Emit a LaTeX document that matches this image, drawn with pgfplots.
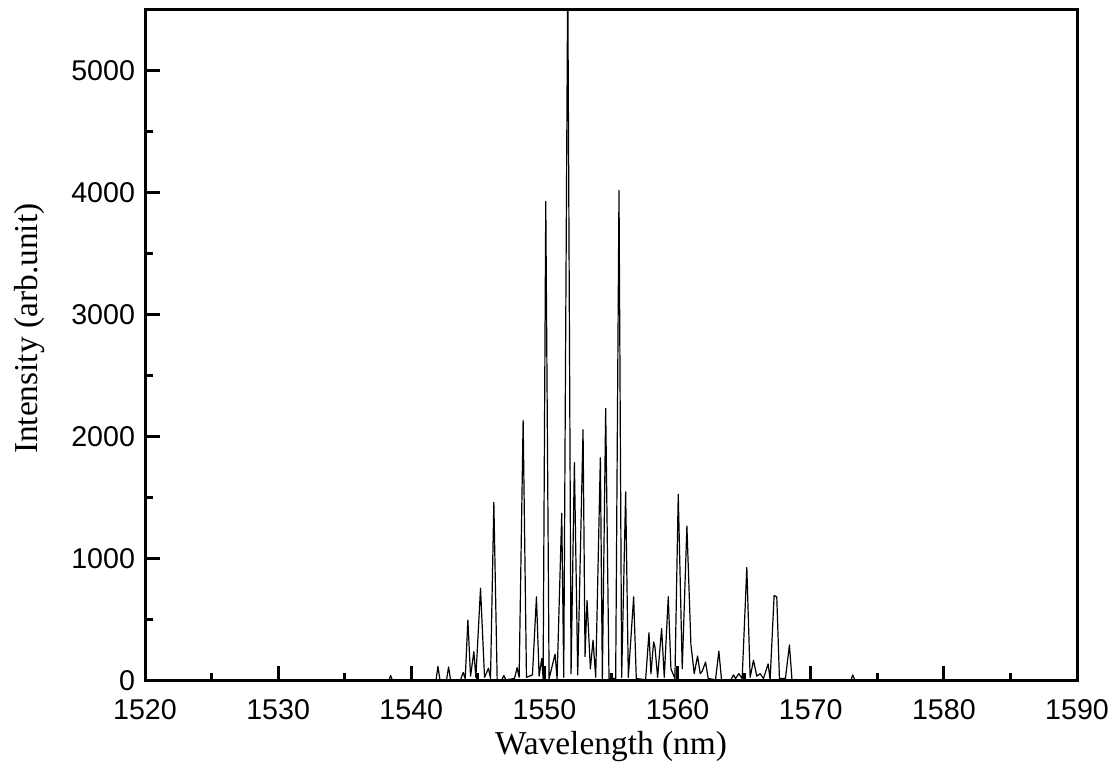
\documentclass[border=0pt]{standalone}
\usepackage{fontspec}
\setmainfont{Liberation Serif}
\newfontfamily\arial{Liberation Sans}
\usepackage{pgfplots}
\pgfplotsset{compat=1.18}
\begin{document}
\begin{tikzpicture}
\begin{axis}[
  scale only axis,
  width=466pt, height=335.5pt,
  xmin=1520, xmax=1590, ymin=0, ymax=5500,
  xtick={1520,1530,...,1590},
  ytick={0,1000,...,5000},
  minor x tick num=1, minor y tick num=1,
  tick pos=left, tick align=inside,
  major tick length=7.5pt, minor tick length=4pt,
  axis line style={line width=1.5pt},
  every tick/.style={line width=1.5pt, black},
  /pgf/number format/assume math mode=true,
  /pgf/number format/1000 sep={},
  tick label style={font=\arial\fontsize{14.3}{16}\selectfont},
  xticklabel style={yshift=-5.5pt},
  yticklabel style={xshift=-1.5pt},
  xlabel={Wavelength (nm)},
  ylabel={Intensity (arb.unit)},
  label style={font=\fontsize{16.7}{19}\selectfont},
  xlabel style={at={(axis description cs:0.5,-0.097)}, anchor=center},
  ylabel style={at={(axis description cs:-0.124,0.525)}, anchor=center},
  clip=true,
]
\addplot[black, line width=0.6pt, line join=round] coordinates {
(1520,0) (1538.3,0) (1538.45,45) (1538.6,0)
(1541.85,0) (1542.0,120) (1542.15,10) (1542.65,10) (1542.8,115) (1542.95,10)
(1543.7,10) (1543.9,70) (1544.05,20) (1544.25,500) (1544.45,40) (1544.7,240)
(1544.85,30) (1545.2,760) (1545.5,30) (1545.8,105) (1545.95,20) (1546.2,1465)
(1546.45,10) (1546.8,10) (1546.95,45) (1547.1,10) (1547.75,20) (1547.95,110)
(1548.1,30) (1548.4,2136) (1548.65,30) (1549.1,50) (1549.4,690) (1549.6,40)
(1549.8,185) (1549.9,20) (1550.1,3930) (1550.35,20) (1550.8,220) (1550.95,20)
(1551.3,1375) (1551.45,30) (1551.75,5800) (1552.0,60) (1552.25,1790) (1552.5,50)
(1552.9,2060) (1553.05,200) (1553.2,660) (1553.45,100) (1553.65,335) (1553.85,30)
(1554.2,1830) (1554.35,20) (1554.6,2235) (1554.85,20) (1555.35,20) (1555.6,4020)
(1555.8,30) (1556.1,1550) (1556.3,30) (1556.7,690) (1556.9,20) (1557.6,10)
(1557.85,395) (1558.0,60) (1558.2,320) (1558.3,280) (1558.5,30) (1558.8,430)
(1559.0,30) (1559.3,690) (1559.5,100) (1559.8,20) (1560.05,1530) (1560.35,100)
(1560.7,1270) (1561.0,300) (1561.25,60) (1561.5,205) (1561.7,60) (1561.85,80)
(1562.1,155) (1562.3,20) (1562.85,10) (1563.1,245) (1563.3,10) (1564.0,10)
(1564.2,50) (1564.35,20) (1564.6,60) (1564.85,20) (1565.2,930) (1565.45,30)
(1565.7,170) (1565.95,40) (1566.2,60) (1566.45,20) (1566.8,140) (1566.95,10)
(1567.25,700) (1567.45,690) (1567.65,20) (1568.1,20) (1568.4,295) (1568.6,0)
(1573.0,0) (1573.15,50) (1573.35,0) (1590,0)
};
\end{axis}
\pgfresetboundingbox
\path[use as bounding box] ([shift={(-72.5pt,-45.5pt)}]current axis.south west) rectangle ([shift={(19pt,5pt)}]current axis.north east);
\end{tikzpicture}
\end{document}
